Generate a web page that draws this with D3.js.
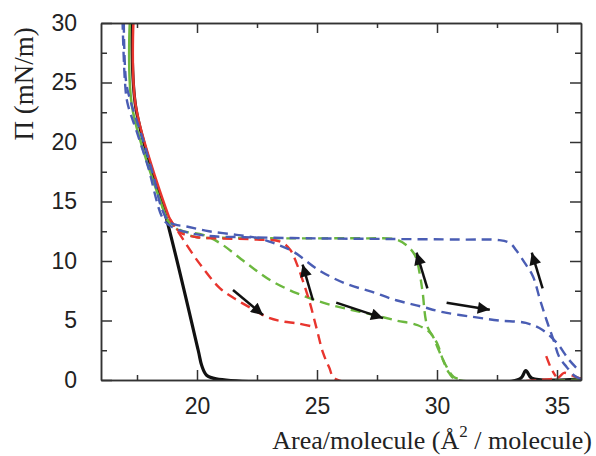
<!DOCTYPE html>
<html>
<head>
<meta charset="utf-8">
<script src="https://cdn.jsdelivr.net/npm/d3@7"></script>
<style>
  body { margin: 0; background: #fff; }
  svg { display: block; }
</style>
</head>
<body>
<div id="chart"></div>
<script>
// axis ticks
const xMajor = [20, 25, 30, 35];
const xMinor = [17.5, 22.5, 27.5, 32.5];
const yMajor = [0, 5, 10, 15, 20, 25, 30];
const yMinor = [2.5, 7.5, 12.5, 17.5, 22.5, 27.5];

// isotherms, [area, pressure]
const blackSolid = [[17.3, 30], [17.45, 22.9], [18.8, 13], [20.05, 2.5], [20.2, 1.2], [20.4, 0.4], [20.8, 0.1],
  [33.45, 0.1], [33.7, 0.8], [33.95, 0.15], [36, 0.1]];

const greenSolid = [[17.2, 30], [17.3, 22.9], [18.75, 13.5]];
const greenCompress = [[36, 0.05], [30.8, 0.05], [30.5, 0.6], [30.25, 1.7], [30.0, 3.1], [29.6, 4.5], [29.4, 7.4],
  [29.3, 8.7], [29.1, 10.4], [28.8, 11.2], [28.3, 11.8], [27, 11.9], [24, 11.9], [21, 11.95], [20, 12.0],
  [19.3, 12.5], [18.75, 13.5]];
const greenExpand = [[18.75, 13.5], [19.3, 12.6], [20.25, 12.2], [20.96, 11.5], [22.07, 9.8], [23.04, 8.4],
  [24.15, 7.3], [25.25, 6.5], [26.2, 6.0], [27.3, 5.5], [28.3, 5.0], [29.2, 4.6], [29.75, 3.9], [30.05, 2.6],
  [30.35, 1.3], [30.7, 0.25], [31.1, 0.05]];

const redSolid = [[17.35, 30], [17.45, 23], [18.85, 13.6]];
const redCompress = [[36, 0.1], [35.6, 0.4], [35.3, 0.6], [35.05, 0.2], [34.6, 0.05], [25.8, 0.05], [25.5, 1.1],
  [25.25, 2.3], [25.0, 4.2], [24.7, 6.5], [24.4, 8.4], [24.15, 9.8], [23.9, 10.9], [23.5, 11.6], [22.5, 11.8],
  [21, 11.9], [20, 12.0], [19.3, 12.4], [18.85, 13.6]];
const redExpand = [[18.85, 13.6], [19.36, 12.0], [20.1, 9.8], [20.96, 7.7], [21.6, 6.8], [22.2, 6.1],
  [22.9, 5.3], [23.5, 4.95], [24.2, 4.75], [24.8, 4.5]];
const redTail = [[34.55, 2.0], [34.75, 1.0], [34.95, 0.3]];

const blueCompress = [[36, 0.05], [35.7, 0.4], [35.4, 1.1], [35.1, 1.9], [34.85, 3.4], [34.57, 5.0], [34.3, 6.7],
  [34.0, 8.7], [33.67, 9.8], [33.3, 10.9], [33.04, 11.5], [32.6, 11.75], [31, 11.8], [28, 11.85], [25, 11.9],
  [22, 12.0], [20.5, 12.1], [19.6, 12.4], [19.0, 12.8], [18.6, 13.5], [17.95, 18], [17.5, 20.8], [17.1, 23.3],
  [17.0, 25], [16.9, 30]];
const blueExpand = [[16.95, 30], [17.05, 25], [17.25, 23.3], [17.7, 20.5], [18.2, 17], [18.55, 14.3],
  [18.9, 13.2], [19.57, 12.9], [20.5, 12.5], [21.65, 12.2], [22.6, 11.9], [23.2, 11.5], [24.0, 10.8],
  [25.1, 9.2], [26.2, 8.1], [27.3, 7.4], [28.3, 6.7], [29.3, 6.2], [30.25, 5.7], [31.5, 5.3], [32.6, 5.0],
  [33.7, 4.8], [34.4, 4.2], [35, 3.1], [35.5, 1.7], [35.96, 0.7]];

// arrows [x1, y1, x2, y2]
const arrows = [[21.5, 7.56, 22.75, 5.46], [24.83, 6.7, 24.4, 9.7], [25.8, 6.5, 27.75, 5.2],
  [29.6, 7.7, 29.15, 10.7], [30.4, 6.5, 32.2, 5.9], [34.4, 7.7, 33.95, 10.7]];

const colors = { black: '#111', red: '#e8352e', green: '#6cb83f', blue: '#4a5db4', axis: '#333' };

const series = [
  { data: blackSolid, color: colors.black, width: 3.2, dash: null },
  { data: greenSolid, color: colors.green, width: 2.5, dash: null },
  { data: redSolid, color: colors.red, width: 2.5, dash: null },
  { data: greenCompress, color: colors.green, width: 2.4, dash: '10,6' },
  { data: greenExpand, color: colors.green, width: 2.4, dash: '10,6' },
  { data: redCompress, color: colors.red, width: 2.4, dash: '10,6' },
  { data: redExpand, color: colors.red, width: 2.4, dash: '10,6' },
  { data: redTail, color: colors.red, width: 2.4, dash: '10,6' },
  { data: blueCompress, color: colors.blue, width: 2.4, dash: '10,6' },
  { data: blueExpand, color: colors.blue, width: 2.4, dash: '10,6' }
];

const W = 596, H = 456;
const margin = { top: 23, right: 15, bottom: 76, left: 101 };
const width = W - margin.left - margin.right;
const height = H - margin.top - margin.bottom;

const svg = d3.select('#chart').append('svg')
  .attr('width', W)
  .attr('height', H);

svg.append('defs').append('marker')
  .attr('id', 'head')
  .attr('viewBox', '0 0 10 10')
  .attr('refX', 10)
  .attr('refY', 5)
  .attr('markerUnits', 'userSpaceOnUse')
  .attr('markerWidth', 17)
  .attr('markerHeight', 12)
  .attr('orient', 'auto')
  .append('path')
  .attr('d', 'M0,0 L10,5 L0,10 Z')
  .attr('fill', colors.black);

const g = svg.append('g')
  .attr('transform', `translate(${margin.left},${margin.top})`);

const x = d3.scaleLinear().domain([16, 36]).range([0, width]);
const y = d3.scaleLinear().domain([0, 30]).range([height, 0]);

const line = d3.line()
  .x(d => x(d[0]))
  .y(d => y(d[1]))
  .curve(d3.curveCatmullRom.alpha(0.5));

const plot = g.append('g');
plot.append('clipPath').attr('id', 'clip')
  .append('rect').attr('width', width).attr('height', height + 2).attr('y', -1);

const curves = plot.append('g').attr('clip-path', 'url(#clip)');
series.forEach(s => {
  curves.append('path')
    .datum(s.data)
    .attr('d', line)
    .attr('fill', 'none')
    .attr('stroke', s.color)
    .attr('stroke-width', s.width)
    .attr('stroke-dasharray', s.dash)
    .attr('stroke-linejoin', 'round');
});

plot.selectAll('.arrow')
  .data(arrows)
  .enter()
  .append('line')
  .attr('class', 'arrow')
  .attr('x1', d => x(d[0]))
  .attr('y1', d => y(d[1]))
  .attr('x2', d => x(d[2]))
  .attr('y2', d => y(d[3]))
  .attr('stroke', colors.black)
  .attr('stroke-width', 2.5)
  .attr('marker-end', 'url(#head)');

// axes: inward ticks on all four sides
function styleAxis(sel) {
  sel.select('.domain').attr('stroke', colors.axis).attr('stroke-width', 1.5);
  sel.selectAll('.tick line').attr('stroke', colors.axis).attr('stroke-width', 1.5);
  sel.selectAll('text')
    .attr('fill', '#222')
    .style('font-family', '"Liberation Sans", Arial, sans-serif')
    .style('font-size', '23px');
}

g.append('g')
  .attr('transform', `translate(0,${height})`)
  .call(d3.axisBottom(x).tickValues(xMinor).tickSize(-5).tickSizeOuter(0).tickFormat(''))
  .call(styleAxis);
g.append('g')
  .attr('transform', `translate(0,${height})`)
  .call(d3.axisBottom(x).tickValues(xMajor).tickSize(-10).tickSizeOuter(0).tickPadding(18))
  .call(styleAxis);

g.append('g')
  .call(d3.axisTop(x).tickValues(xMinor).tickSize(-5).tickSizeOuter(0).tickFormat(''))
  .call(styleAxis);
g.append('g')
  .call(d3.axisTop(x).tickValues(xMajor).tickSize(-10).tickSizeOuter(0).tickFormat(''))
  .call(styleAxis);

g.append('g')
  .call(d3.axisLeft(y).tickValues(yMinor).tickSize(-6).tickSizeOuter(0).tickFormat(''))
  .call(styleAxis);
g.append('g')
  .call(d3.axisLeft(y).tickValues(yMajor).tickSize(-11).tickSizeOuter(0).tickPadding(24))
  .call(styleAxis);

g.append('g')
  .attr('transform', `translate(${width},0)`)
  .call(d3.axisRight(y).tickValues(yMinor).tickSize(-6).tickSizeOuter(0).tickFormat(''))
  .call(styleAxis);
g.append('g')
  .attr('transform', `translate(${width},0)`)
  .call(d3.axisRight(y).tickValues(yMajor).tickSize(-11).tickSizeOuter(0).tickFormat(''))
  .call(styleAxis);

// axis titles
svg.append('text')
  .attr('transform', 'translate(33,84) rotate(-90)')
  .attr('text-anchor', 'middle')
  .style('font-family', '"Liberation Serif", "Times New Roman", serif')
  .style('font-size', '27px')
  .attr('fill', '#222')
  .text('\u03A0 (mN/m)');

const xt = svg.append('text')
  .attr('x', 592)
  .attr('y', 449)
  .attr('text-anchor', 'end')
  .style('font-family', '"Liberation Serif", "Times New Roman", serif')
  .style('font-size', '26px')
  .attr('fill', '#222');
xt.append('tspan').text('Area/molecule (\u00C5');
xt.append('tspan').attr('dy', -12).style('font-size', '17px').text('2');
xt.append('tspan').attr('dy', 12).text(' / molecule)');
</script>
</body>
</html>
